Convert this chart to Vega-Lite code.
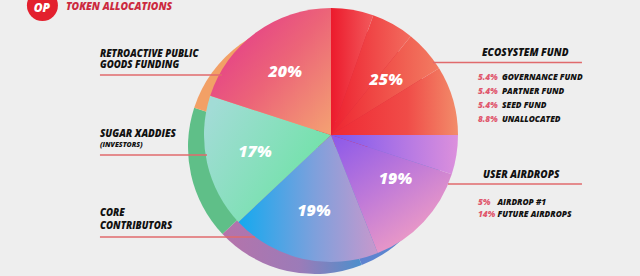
{
  "$schema": "https://vega.github.io/schema/vega-lite/v6.json",
  "width": 640,
  "height": 276,
  "autosize": {"type": "none"},
  "padding": 0,
  "background": "#eeeeee",
  "config": {
    "view": {"stroke": null},
    "axis": {"disable": true},
    "text": {"font": "Open Sans", "fontStyle": "italic", "fontWeight": 800}
  },
  "datasets": {
    "allocations": [
      {"group": "Ecosystem Fund", "part": "Governance Fund", "share": 0.054},
      {"group": "Ecosystem Fund", "part": "Partner Fund", "share": 0.054},
      {"group": "Ecosystem Fund", "part": "Seed Fund", "share": 0.054},
      {"group": "Ecosystem Fund", "part": "Unallocated", "share": 0.088},
      {"group": "User Airdrops", "part": "Airdrop #1", "share": 0.05},
      {"group": "User Airdrops", "part": "Future Airdrops", "share": 0.14},
      {"group": "Core Contributors", "part": "Core Contributors", "share": 0.19},
      {"group": "Sugar Xaddies", "part": "Sugar Xaddies", "share": 0.17},
      {"group": "Retroactive Public Goods Funding", "part": "Retroactive Public Goods Funding", "share": 0.20}
    ]
  },
  "resolve": {"scale": {"y": "independent"}},
  "layer": [
    {
      "data": {"name": "allocations"},
      "transform": [{"stack": "share", "groupby": [], "as": ["s0", "s1"]}],
      "encoding": {
        "x": {"datum": 0, "type": "quantitative", "scale": {"domain": [-2.606, 2.433], "nice": false, "zero": false}},
        "y": {"datum": 0, "type": "quantitative", "scale": {"domain": [-1.11, 1.063], "nice": false, "zero": false}}
      },
      "layer": [
        {
          "encoding": {
            "x": {"datum": -0.126, "type": "quantitative", "scale": {"domain": [-2.606, 2.433], "nice": false, "zero": false}},
            "y": {"datum": -0.0945, "type": "quantitative", "scale": {"domain": [-1.11, 1.063], "nice": false, "zero": false}},
            "theta": {"field": "s0", "type": "quantitative", "scale": {"domain": [0, 1]}},
            "theta2": {"field": "s1"}
          },
          "layer": [
            {"transform": [{"filter": "datum.group === 'Ecosystem Fund'"}],
             "mark": {"type": "arc", "radius": 127, "fill": "#d8283a"}},
            {"transform": [{"filter": "datum.group === 'User Airdrops'"}],
             "mark": {"type": "arc", "radius": 127, "fill": {"gradient": "linear", "x1": 0, "y1": 0, "x2": 1, "y2": 1, "stops": [{"offset": 0, "color": "#7f62d8"}, {"offset": 1, "color": "#4f92cc"}]}}},
            {"transform": [{"filter": "datum.group === 'Core Contributors'"}],
             "mark": {"type": "arc", "radius": 127, "fill": {"gradient": "linear", "x1": 0, "y1": 0.5, "x2": 1, "y2": 0.5, "stops": [{"offset": 0, "color": "#b673aa"}, {"offset": 0.55, "color": "#9c7bb8"}, {"offset": 1, "color": "#4c8fcc"}]}}},
            {"transform": [{"filter": "datum.group === 'Sugar Xaddies'"}],
             "mark": {"type": "arc", "radius": 127, "fill": "#5fbf88"}},
            {"transform": [{"filter": "datum.group === 'Retroactive Public Goods Funding'"}],
             "mark": {"type": "arc", "radius": 127, "fill": "#f2a066"}}
          ]
        },
        {
          "encoding": {
            "theta": {"field": "s0", "type": "quantitative", "scale": {"domain": [0, 1]}},
            "theta2": {"field": "s1"}
          },
          "layer": [
            {"transform": [{"filter": "datum.part === 'Governance Fund'"}],
             "mark": {"type": "arc", "radius": 127, "fill": {"gradient": "linear", "x1": 0, "y1": 0.5, "x2": 1, "y2": 0.5, "stops": [{"offset": 0, "color": "#ec1a2c"}, {"offset": 1, "color": "#f25a5c"}]}}},
            {"transform": [{"filter": "datum.part === 'Partner Fund'"}],
             "mark": {"type": "arc", "radius": 127, "fill": {"gradient": "linear", "x1": 0, "y1": 0.5, "x2": 1, "y2": 0.5, "stops": [{"offset": 0, "color": "#ed1f2e"}, {"offset": 1, "color": "#f26c5e"}]}}},
            {"transform": [{"filter": "datum.part === 'Seed Fund'"}],
             "mark": {"type": "arc", "radius": 127, "fill": {"gradient": "linear", "x1": 0, "y1": 0.5, "x2": 1, "y2": 0.5, "stops": [{"offset": 0, "color": "#ee2430"}, {"offset": 1, "color": "#f27c62"}]}}},
            {"transform": [{"filter": "datum.part === 'Unallocated'"}],
             "mark": {"type": "arc", "radius": 127, "fill": {"gradient": "linear", "x1": 0, "y1": 0.5, "x2": 1, "y2": 0.5, "stops": [{"offset": 0, "color": "#ef2833"}, {"offset": 0.6, "color": "#f04c48"}, {"offset": 1, "color": "#f28c6a"}]}}},
            {"transform": [{"filter": "datum.part === 'Airdrop #1'"}],
             "mark": {"type": "arc", "radius": 127, "fill": {"gradient": "linear", "x1": 0, "y1": 0.5, "x2": 1, "y2": 0.5, "stops": [{"offset": 0, "color": "#7c56ee"}, {"offset": 1, "color": "#dc90dc"}]}}},
            {"transform": [{"filter": "datum.part === 'Future Airdrops'"}],
             "mark": {"type": "arc", "radius": 127, "fill": {"gradient": "linear", "x1": 0, "y1": 0, "x2": 0.7, "y2": 1, "stops": [{"offset": 0, "color": "#8a58ea"}, {"offset": 0.5, "color": "#c07ad8"}, {"offset": 1, "color": "#f4a0c2"}]}}},
            {"transform": [{"filter": "datum.part === 'Core Contributors'"}],
             "mark": {"type": "arc", "radius": 127, "fill": {"gradient": "linear", "x1": 0, "y1": 0.5, "x2": 1, "y2": 0.5, "stops": [{"offset": 0, "color": "#14a9ef"}, {"offset": 0.55, "color": "#7ea0dc"}, {"offset": 1, "color": "#c898cc"}]}}},
            {"transform": [{"filter": "datum.part === 'Sugar Xaddies'"}],
             "mark": {"type": "arc", "radius": 127, "fill": {"gradient": "linear", "x1": 0, "y1": 0.2, "x2": 1, "y2": 0.8, "stops": [{"offset": 0, "color": "#a2dcd6"}, {"offset": 1, "color": "#68e3a0"}]}}},
            {"transform": [{"filter": "datum.part === 'Retroactive Public Goods Funding'"}],
             "mark": {"type": "arc", "radius": 127, "fill": {"gradient": "linear", "x1": 0, "y1": 0.1, "x2": 1, "y2": 1, "stops": [{"offset": 0, "color": "#e2348e"}, {"offset": 0.5, "color": "#ec6478"}, {"offset": 1, "color": "#f4a272"}]}}}
          ]
        },
        {
          "transform": [
            {"aggregate": [
              {"op": "sum", "field": "share", "as": "total"},
              {"op": "min", "field": "s0", "as": "g0"},
              {"op": "max", "field": "s1", "as": "g1"}
            ], "groupby": ["group"]},
            {"calculate": "(datum.g0 + datum.g1) / 2", "as": "mid"}
          ],
          "mark": {"type": "text", "radius": 78, "fontSize": 16, "color": "#ffffff", "align": "center", "baseline": "middle"},
          "encoding": {
            "theta": {"field": "mid", "type": "quantitative", "scale": {"domain": [0, 1]}},
            "text": {"field": "total", "type": "quantitative", "format": ".0%"}
          }
        }
      ]
    },
    {
      "data": {"values": [{}]},
      "layer": [
        {"mark": {"type": "circle", "size": 960, "color": "#e3202e", "opacity": 1},
         "encoding": {"x": {"datum": -2.272, "type": "quantitative", "scale": {"domain": [-2.606, 2.433], "nice": false, "zero": false}}, "y": {"datum": 1.02, "type": "quantitative", "scale": {"domain": [-1.11, 1.063], "nice": false, "zero": false}}}},
        {"mark": {"type": "text", "text": "OP", "fontSize": 12, "color": "#ffffff", "align": "center", "baseline": "middle"},
         "encoding": {"x": {"datum": -2.276, "type": "quantitative"}, "y": {"datum": 1.0, "type": "quantitative"}}},
        {"mark": {"type": "text", "text": "TOKEN ALLOCATIONS", "fontSize": 10.3, "color": "#cc2a3e", "align": "left", "baseline": "middle"},
         "encoding": {"x": {"datum": -2.087, "type": "quantitative"}, "y": {"datum": 1.004, "type": "quantitative"}}},
        {"mark": {"type": "text", "text": "RETROACTIVE PUBLIC", "fontSize": 9.6, "color": "#111111", "align": "left", "baseline": "middle"},
         "encoding": {"x": {"datum": -1.819, "type": "quantitative"}, "y": {"datum": 0.641, "type": "quantitative"}}},
        {"mark": {"type": "text", "text": "GOODS FUNDING", "fontSize": 9.6, "color": "#111111", "align": "left", "baseline": "middle"},
         "encoding": {"x": {"datum": -1.819, "type": "quantitative"}, "y": {"datum": 0.548, "type": "quantitative"}}},
        {"mark": {"type": "text", "text": "SUGAR XADDIES", "fontSize": 9.9, "color": "#111111", "align": "left", "baseline": "middle"},
         "encoding": {"x": {"datum": -1.819, "type": "quantitative"}, "y": {"datum": 0.008, "type": "quantitative"}}},
        {"mark": {"type": "text", "text": "(INVESTORS)", "fontSize": 7, "color": "#111111", "align": "left", "baseline": "middle"},
         "encoding": {"x": {"datum": -1.819, "type": "quantitative"}, "y": {"datum": -0.075, "type": "quantitative"}}},
        {"mark": {"type": "text", "text": "CORE", "fontSize": 9.6, "color": "#111111", "align": "left", "baseline": "middle"},
         "encoding": {"x": {"datum": -1.819, "type": "quantitative"}, "y": {"datum": -0.6165, "type": "quantitative"}}},
        {"mark": {"type": "text", "text": "CONTRIBUTORS", "fontSize": 9.6, "color": "#111111", "align": "left", "baseline": "middle"},
         "encoding": {"x": {"datum": -1.819, "type": "quantitative"}, "y": {"datum": -0.7165, "type": "quantitative"}}},
        {"mark": {"type": "text", "text": "ECOSYSTEM FUND", "fontSize": 10, "color": "#111111", "align": "left", "baseline": "middle"},
         "encoding": {"x": {"datum": 1.189, "type": "quantitative"}, "y": {"datum": 0.643, "type": "quantitative"}}},
        {"mark": {"type": "text", "text": "USER AIRDROPS", "fontSize": 10, "color": "#111111", "align": "left", "baseline": "middle"},
         "encoding": {"x": {"datum": 1.197, "type": "quantitative"}, "y": {"datum": -0.315, "type": "quantitative"}}},
        {"mark": {"type": "rule", "color": "#e06a6c", "strokeWidth": 1.4},
         "encoding": {"x": {"datum": -1.819, "type": "quantitative"}, "x2": {"datum": -0.858}, "y": {"datum": 0.472, "type": "quantitative"}}},
        {"mark": {"type": "rule", "color": "#e06a6c", "strokeWidth": 1.4},
         "encoding": {"x": {"datum": -1.819, "type": "quantitative"}, "x2": {"datum": -0.976}, "y": {"datum": -0.157, "type": "quantitative"}}},
        {"mark": {"type": "rule", "color": "#e06a6c", "strokeWidth": 1.4},
         "encoding": {"x": {"datum": -1.819, "type": "quantitative"}, "x2": {"datum": -0.598}, "y": {"datum": -0.803, "type": "quantitative"}}},
        {"mark": {"type": "rule", "color": "#e06a6c", "strokeWidth": 1.4},
         "encoding": {"x": {"datum": 0.803, "type": "quantitative"}, "x2": {"datum": 1.976}, "y": {"datum": 0.571, "type": "quantitative"}}},
        {"mark": {"type": "rule", "color": "#e06a6c", "strokeWidth": 1.4},
         "encoding": {"x": {"datum": 0.921, "type": "quantitative"}, "x2": {"datum": 1.976}, "y": {"datum": -0.386, "type": "quantitative"}}}
      ]
    },
    {
      "data": {"name": "allocations"},
      "transform": [
        {"filter": "datum.group === 'Ecosystem Fund'"},
        {"calculate": "upper(datum.part)", "as": "name"}
      ],
      "encoding": {
        "y": {"field": "part", "type": "nominal", "sort": null, "scale": {"type": "point", "range": [78.3, 120], "padding": 0}}
      },
      "layer": [
        {"mark": {"type": "text", "fontSize": 8.3, "color": "#e0566c", "align": "left", "baseline": "middle"},
         "encoding": {"x": {"datum": 1.157, "type": "quantitative"}, "text": {"field": "share", "type": "quantitative", "format": ".1~%"}}},
        {"mark": {"type": "text", "fontSize": 8.3, "color": "#111111", "align": "left", "baseline": "middle"},
         "encoding": {"x": {"datum": 1.346, "type": "quantitative"}, "text": {"field": "name"}}}
      ]
    },
    {
      "data": {"name": "allocations"},
      "transform": [
        {"filter": "datum.group === 'User Airdrops'"},
        {"calculate": "upper(datum.part)", "as": "name"}
      ],
      "encoding": {
        "y": {"field": "part", "type": "nominal", "sort": null, "scale": {"type": "point", "range": [203, 215], "padding": 0}}
      },
      "layer": [
        {"mark": {"type": "text", "fontSize": 8.3, "color": "#e0566c", "align": "left", "baseline": "middle"},
         "encoding": {"x": {"datum": 1.157, "type": "quantitative"}, "text": {"field": "share", "type": "quantitative", "format": ".1~%"}}},
        {"mark": {"type": "text", "fontSize": 8.3, "color": "#111111", "align": "left", "baseline": "middle"},
         "encoding": {"x": {"datum": 1.311, "type": "quantitative"}, "text": {"field": "name"}}}
      ]
    }
  ]
}
